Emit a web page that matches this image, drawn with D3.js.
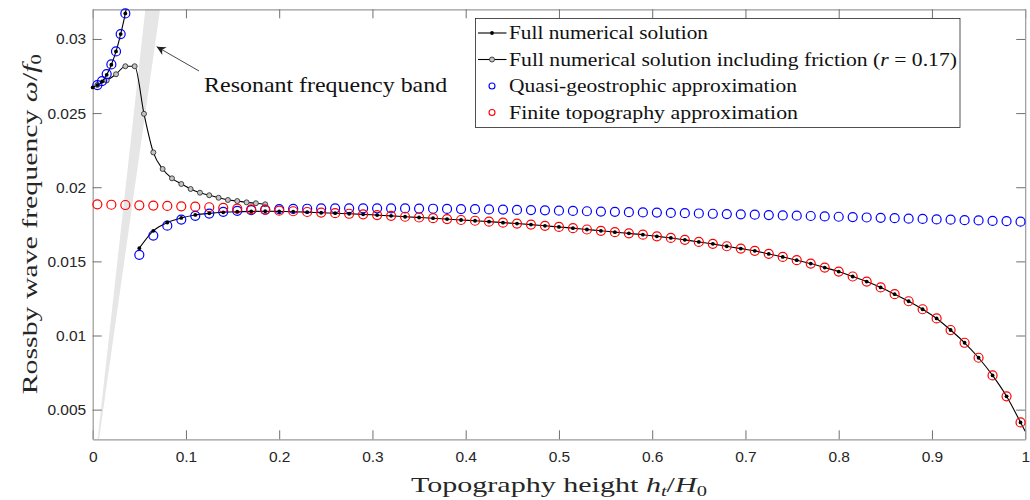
<!DOCTYPE html>
<html>
<head>
<meta charset="utf-8">
<script src="https://cdn.jsdelivr.net/npm/d3@7"></script>
<style>
  body { margin: 0; background: #fff; }
  svg { display: block; }
</style>
</head>
<body>
<script>
const width = 1030,
  height = 500;

// tick values
const xTicks = [0, 0.1, 0.2, 0.3, 0.4, 0.5, 0.6, 0.7, 0.8, 0.9, 1];
const yTicks = [0.005, 0.01, 0.015, 0.02, 0.025, 0.03];

// topography heights where the approximations were sampled
const gridH = [0.005, 0.02, 0.035, 0.05, 0.065, 0.08, 0.095, 0.11, 0.125, 0.14,
  0.155, 0.17, 0.185, 0.2, 0.215, 0.23, 0.245, 0.26, 0.275, 0.29,
  0.305, 0.32, 0.335, 0.35, 0.365, 0.38, 0.395, 0.41, 0.425, 0.44,
  0.455, 0.47, 0.485, 0.5, 0.515, 0.53, 0.545, 0.56, 0.575, 0.59,
  0.605, 0.62, 0.635, 0.65, 0.665, 0.68, 0.695, 0.71, 0.725, 0.74,
  0.755, 0.77, 0.785, 0.8, 0.815, 0.83, 0.845, 0.86, 0.875, 0.89,
  0.905, 0.92, 0.935, 0.95, 0.965, 0.98, 0.995];

// finite topography approximation (red)
const finiteW = [0.01885, 0.01882, 0.0188, 0.01878, 0.01876, 0.01874, 0.01871, 0.01869, 0.01865, 0.01861,
  0.01856, 0.01851, 0.01847, 0.01842, 0.01838, 0.01833, 0.01829, 0.01825, 0.01821, 0.01817,
  0.01812, 0.01807, 0.01801, 0.01796, 0.01791, 0.01785, 0.01779, 0.01774, 0.01768, 0.01761,
  0.01755, 0.01748, 0.0174, 0.01732, 0.01724, 0.01715, 0.01706, 0.01697, 0.01689, 0.0168,
  0.01669, 0.01658, 0.01645, 0.01631, 0.01618, 0.01602, 0.01586, 0.01571, 0.0155, 0.0153,
  0.01508, 0.01485, 0.01458, 0.01431, 0.01398, 0.01364, 0.01324, 0.01279, 0.01231, 0.01177,
  0.01115, 0.01037, 0.00951, 0.0085, 0.00731, 0.0059, 0.00414];

// quasi-geostrophic approximation (blue), two branches
const qgUpH = [0.005, 0.01, 0.015, 0.02, 0.025, 0.03, 0.035];
const qgUpW = [0.02689, 0.02716, 0.02763, 0.02828, 0.02916, 0.03033, 0.03172];
const qgLowH = gridH.slice(3);
const qgLowW = [0.01544, 0.01674, 0.01741, 0.01782, 0.01807, 0.01822, 0.01834,
  0.01841, 0.01845, 0.01849, 0.01852, 0.01854, 0.01855, 0.01857, 0.01858, 0.01858, 0.01858,
  0.01858, 0.01857, 0.01857, 0.01856, 0.01855, 0.01854, 0.01853, 0.01852, 0.0185, 0.01849,
  0.01847, 0.01846, 0.01844, 0.01842, 0.0184, 0.01838, 0.01836, 0.01834, 0.01832, 0.0183,
  0.01829, 0.01827, 0.01825, 0.01823, 0.01821, 0.01819, 0.01817, 0.01815, 0.01812, 0.0181,
  0.01808, 0.01806, 0.01803, 0.01801, 0.01799, 0.01796, 0.01794, 0.01791, 0.01788, 0.01786,
  0.01783, 0.01781, 0.01778, 0.01776, 0.01773, 0.01771, 0.01768];

// full numerical solution (black dots + line), two branches
const fullUpH = [0, 0.005, 0.01, 0.015, 0.02, 0.025, 0.03, 0.035, 0.04];
const fullUpW = [0.02673, 0.02689, 0.02713, 0.02758, 0.02826, 0.02916, 0.03033, 0.03172, 0.0335];
const fullLowH = gridH.slice(3).concat([1]);
const fullLowW = [0.01589, 0.01706, 0.01762, 0.01793, 0.01813, 0.01824, 0.01831,
  0.01835, 0.01837, 0.01838, 0.01837, 0.01835, 0.01832, 0.01828, 0.01825, 0.01821, 0.01817,
  0.01812, 0.01807, 0.01801, 0.01796, 0.01791, 0.01785, 0.01779, 0.01774, 0.01768, 0.01761,
  0.01755, 0.01748, 0.0174, 0.01732, 0.01724, 0.01715, 0.01706, 0.01697, 0.01689, 0.0168,
  0.01669, 0.01658, 0.01645, 0.01631, 0.01618, 0.01602, 0.01586, 0.01571, 0.0155, 0.0153,
  0.01508, 0.01485, 0.01458, 0.01431, 0.01398, 0.01364, 0.01324, 0.01279, 0.01231, 0.01177,
  0.01115, 0.01037, 0.00951, 0.0085, 0.00731, 0.0059, 0.00414, 0.00354];

// full numerical solution with friction r = 0.17 (grey circles + line)
const fricH = [0, 0.005, 0.015, 0.025, 0.035, 0.045, 0.055, 0.065, 0.075, 0.085,
  0.095, 0.105, 0.115, 0.125, 0.135, 0.145, 0.155, 0.165, 0.175, 0.185];
const fricW = [0.02673, 0.0269, 0.0272, 0.02762, 0.02816, 0.02816, 0.02495, 0.02235, 0.02123, 0.0206,
  0.02022, 0.01988, 0.01963, 0.01946, 0.01929, 0.01914, 0.01907, 0.01898, 0.01892, 0.01885];

// resonant frequency band (wedge between two lines through the origin)
const bandH = [0, 0.08];
const bandLo = [0, 0.03544];
const bandHi = [0, 0.04536];

// annotation: text anchor, arrow tail, arrow tip (data units)
const noteText = [0.1195, 0.02644];
const noteTail = [0.114, 0.02784];
const noteTip = [0.0686, 0.02948];

const legendLabels = [
  'Full numerical solution',
  'Full numerical solution including friction',
  'Quasi-geostrophic approximation',
  'Finite topography approximation'
];

const serif = '"Liberation Serif", "Times New Roman", serif';
const sans = '"Liberation Sans", Arial, sans-serif';

const x = d3.scaleLinear().domain([0, 1]).range([92.7, 1025.2]);
const y = d3.scaleLinear().domain([0.003, 0.032]).range([439.3, 9.3]);

const svg = d3
  .select('body')
  .append('svg')
  .attr('width', width)
  .attr('height', height);

svg.append('defs')
  .append('clipPath')
  .attr('id', 'plot')
  .append('rect')
  .attr('x', x(0))
  .attr('y', y(0.032))
  .attr('width', x(1) - x(0))
  .attr('height', y(0.003) - y(0.032));

const zip = (a, b) => a.map((d, i) => [d, b[i]]);

// band
const band = d3.area()
  .x(d => x(d[0]))
  .y0(d => y(d[1]))
  .y1(d => y(d[2]));
svg.append('path')
  .datum(bandH.map((h, i) => [h, bandLo[i], bandHi[i]]))
  .attr('clip-path', 'url(#plot)')
  .attr('fill', '#e6e6e6')
  .attr('d', band);

// axes (MATLAB-like box with inward ticks on every side)
const fmt = d3.format('~g');
const styleAxis = g => {
  g.select('.domain').attr('stroke', '#9a9a9a').attr('stroke-width', 1.2);
  g.selectAll('.tick line').attr('stroke', '#707070').attr('stroke-width', 1);
  g.selectAll('.tick text').attr('fill', '#262626').style('font-family', sans).style('font-size', '15.5px');
};
svg.append('g')
  .attr('transform', `translate(0,${y(0.003)})`)
  .call(d3.axisBottom(x).tickValues(xTicks).tickFormat(fmt).tickSize(-9).tickSizeOuter(0).tickPadding(12))
  .call(styleAxis);
svg.append('g')
  .attr('transform', `translate(0,${y(0.032)})`)
  .call(d3.axisTop(x).tickValues(xTicks).tickFormat('').tickSize(-9).tickSizeOuter(0))
  .call(styleAxis);
svg.append('g')
  .attr('transform', `translate(${x(0)},0)`)
  .call(d3.axisLeft(y).tickValues(yTicks).tickFormat(fmt).tickSize(-9).tickSizeOuter(0).tickPadding(6.5))
  .call(styleAxis);
svg.append('g')
  .attr('transform', `translate(${x(1)},0)`)
  .call(d3.axisRight(y).tickValues(yTicks).tickFormat('').tickSize(-9).tickSizeOuter(0))
  .call(styleAxis);
svg.selectAll('.domain').attr('fill', 'none');

// lines
const line = d3.line()
  .x(d => x(d[0]))
  .y(d => y(d[1]))
  .curve(d3.curveMonotoneX);

const inside = d => d[1] <= 0.032 && d[1] >= 0.003;

const fricPts = zip(fricH, fricW);
svg.append('path')
  .datum(fricPts)
  .attr('clip-path', 'url(#plot)')
  .attr('fill', 'none')
  .attr('stroke', '#000')
  .attr('stroke-width', 1.1)
  .attr('d', line);

const fullUp = zip(fullUpH, fullUpW);
const fullLow = zip(fullLowH, fullLowW);
[fullUp, fullLow].forEach(pts => {
  svg.append('path')
    .datum(pts)
    .attr('clip-path', 'url(#plot)')
    .attr('fill', 'none')
    .attr('stroke', '#000')
    .attr('stroke-width', 1.1)
    .attr('d', line);
});

// friction markers (skip the line start at h = 0)
const fricFill = '#c4c4c4';
svg.append('g')
  .selectAll('circle')
  .data(fricPts.filter(d => d[0] > 0))
  .join('circle')
  .attr('cx', d => x(d[0]))
  .attr('cy', d => y(d[1]))
  .attr('r', 2.5)
  .attr('fill', fricFill)
  .attr('stroke', '#333')
  .attr('stroke-width', 0.9);

// open circles for approximations
const drawRings = (pts, color) => {
  svg.append('g')
    .selectAll('circle')
    .data(pts.filter(inside))
    .join('circle')
    .attr('cx', d => x(d[0]))
    .attr('cy', d => y(d[1]))
    .attr('r', 4.5)
    .attr('fill', 'none')
    .attr('stroke', color)
    .attr('stroke-width', 1.2);
};
drawRings(zip(qgUpH, qgUpW).concat(zip(qgLowH, qgLowW)), '#0000ff');
drawRings(zip(gridH, finiteW), '#ff0000');

// black dots of the full solution (last lower point is only the line end)
svg.append('g')
  .selectAll('circle')
  .data(fullUp.concat(fullLow.slice(0, -1)).filter(inside))
  .join('circle')
  .attr('cx', d => x(d[0]))
  .attr('cy', d => y(d[1]))
  .attr('r', 1.9)
  .attr('fill', '#000');

// annotation
svg.append('defs')
  .append('marker')
  .attr('id', 'head')
  .attr('viewBox', '0 0 10 10')
  .attr('refX', 10)
  .attr('refY', 5)
  .attr('markerWidth', 13)
  .attr('markerHeight', 9)
  .attr('markerUnits', 'userSpaceOnUse')
  .attr('orient', 'auto')
  .append('path')
  .attr('d', 'M0,0L10,5L0,10L3,5Z')
  .attr('fill', '#222');
svg.append('line')
  .attr('x1', x(noteTail[0]))
  .attr('y1', y(noteTail[1]))
  .attr('x2', x(noteTip[0]))
  .attr('y2', y(noteTip[1]))
  .attr('stroke', '#333')
  .attr('stroke-width', 0.9)
  .attr('marker-end', 'url(#head)');
svg.append('text')
  .attr('x', x(noteText[0]))
  .attr('y', y(noteText[1]))
  .attr('textLength', 243)
  .attr('lengthAdjust', 'spacingAndGlyphs')
  .style('font-family', serif)
  .style('font-size', '21px')
  .attr('fill', '#111')
  .text('Resonant frequency band');

// axis labels
const xl = svg.append('text')
  .attr('x', (x(0) + x(1)) / 2)
  .attr('y', 492)
  .attr('text-anchor', 'middle')
  .attr('textLength', 296)
  .attr('lengthAdjust', 'spacingAndGlyphs')
  .style('font-family', serif)
  .style('font-size', '22px')
  .attr('fill', '#262626');
xl.append('tspan').text('Topography height ');
xl.append('tspan').style('font-style', 'italic').text('h');
xl.append('tspan').attr('dy', 4).style('font-size', '15px').style('font-style', 'italic').text('t');
xl.append('tspan').attr('dy', -4).text('/');
xl.append('tspan').style('font-style', 'italic').text('H');
xl.append('tspan').attr('dy', 4).style('font-size', '15px').text('0');

const yl = svg.append('text')
  .attr('transform', `translate(37,${(y(0.003) + y(0.032)) / 2}) rotate(-90)`)
  .attr('text-anchor', 'middle')
  .attr('textLength', 340)
  .attr('lengthAdjust', 'spacingAndGlyphs')
  .style('font-family', serif)
  .style('font-size', '22px')
  .attr('fill', '#262626');
yl.append('tspan').text('Rossby wave frequency ');
yl.append('tspan').style('font-style', 'italic').text('ω');
yl.append('tspan').text('/');
yl.append('tspan').style('font-style', 'italic').text('f');
yl.append('tspan').attr('dy', 4).style('font-size', '15px').text('0');

// legend
const lg = svg.append('g');
lg.append('rect')
  .attr('x', 475.5)
  .attr('y', 18.5)
  .attr('width', 484.5)
  .attr('height', 109)
  .attr('fill', '#fff')
  .attr('stroke', '#262626')
  .attr('stroke-width', 0.8);

const rowY = [33, 59.5, 86, 112.5];
const textW = [199, 448, 288, 289];
legendLabels.forEach((label, i) => {
  const cy = rowY[i];
  if (i < 2) {
    lg.append('line')
      .attr('x1', 478).attr('x2', 506.5)
      .attr('y1', cy).attr('y2', cy)
      .attr('stroke', '#000').attr('stroke-width', 1.1);
    if (i === 0) {
      lg.append('circle').attr('cx', 492).attr('cy', cy).attr('r', 1.9).attr('fill', '#000');
    } else {
      lg.append('circle').attr('cx', 492).attr('cy', cy).attr('r', 2.5)
        .attr('fill', fricFill).attr('stroke', '#333').attr('stroke-width', 0.9);
    }
  } else {
    lg.append('circle').attr('cx', 492).attr('cy', cy).attr('r', 3)
      .attr('fill', 'none')
      .attr('stroke', i === 2 ? '#0000ff' : '#ff0000')
      .attr('stroke-width', 1.1);
  }
  const t = lg.append('text')
    .attr('x', 509)
    .attr('y', cy + 6)
    .attr('textLength', textW[i])
    .attr('lengthAdjust', 'spacingAndGlyphs')
    .style('font-family', serif)
    .style('font-size', '18.5px')
    .attr('fill', '#111');
  t.append('tspan').text(label);
  if (i === 1) {
    t.append('tspan').text(' (');
    t.append('tspan').style('font-style', 'italic').text('r');
    t.append('tspan').text(' = 0.17)');
  }
});
</script>
</body>
</html>
